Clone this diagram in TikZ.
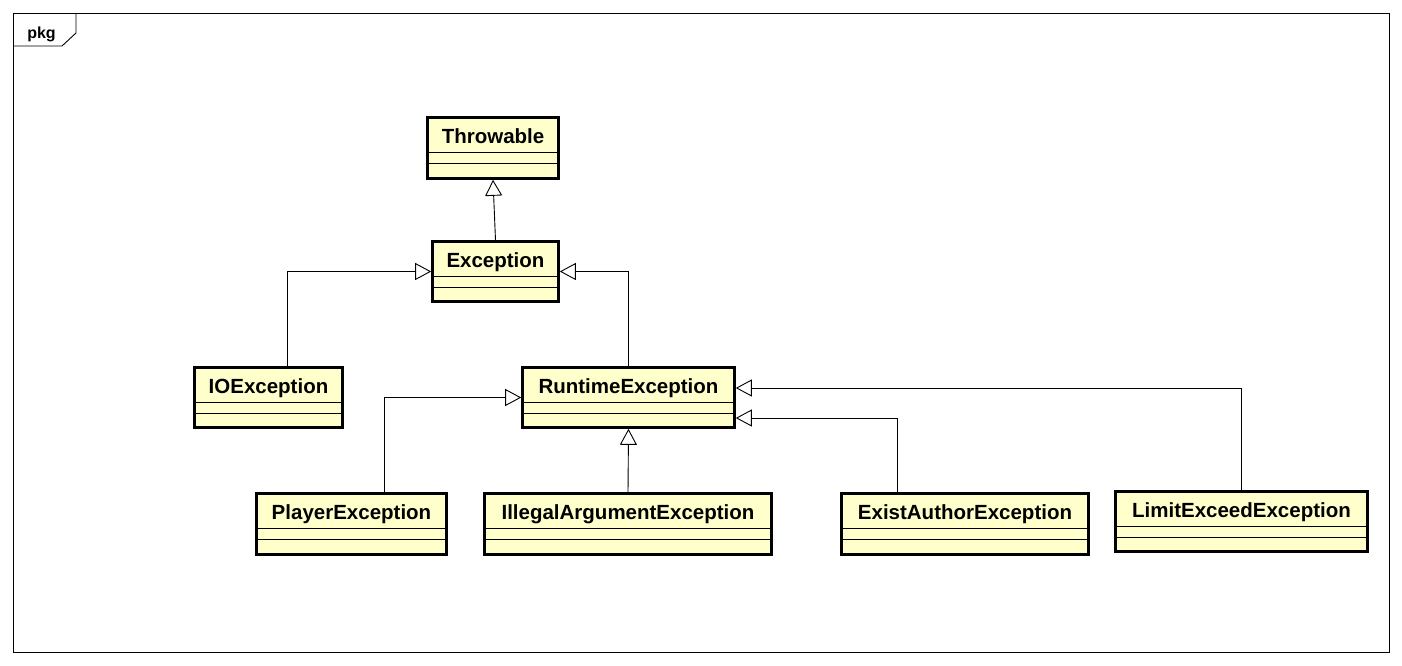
\documentclass[tikz,border=0pt]{standalone}
\usepackage{fontspec}
\setmainfont{Liberation Sans}
\usetikzlibrary{arrows.meta}
\definecolor{clsfill}{RGB}{255,255,204}
\tikzset{
  clsbox/.style={draw=black, line width=2.6pt, fill=clsfill, inner sep=0pt},
  clstext/.style={anchor=base, inner sep=0pt, font=\fontsize{20.5}{24}\selectfont\bfseries},
  compline/.style={line width=0.9pt},
  inh/.style={line width=0.9pt, -{Triangle[length=16pt,width=17pt,fill=white]}},
  frameline/.style={line width=0.9pt}
}
\newcommand\umlclass[6]{%
  \node[clsbox, minimum width=#4pt, minimum height=#5pt] (#1) at (#2,#3) {};
  \node[clstext] (#1-t) at ([yshift=-27.5pt]#1.north) {#6};
  \draw[compline] ([yshift=-36.5pt]#1.north west) -- ([yshift=-36.5pt]#1.north east);
  \draw[compline] ([yshift=-47pt]#1.north west) -- ([yshift=-47pt]#1.north east);
}
\begin{document}
\begin{tikzpicture}[x=1pt,y=-1pt]
\useasboundingbox (0,0) rectangle (1402,665);
% frame
\draw[frameline] (13,13) rectangle (1389,652);
\draw[frameline] (13,46) -- (62,46) -- (76,33) -- (76,13);
\node[anchor=base, inner sep=0pt, font=\fontsize{16}{18}\selectfont\bfseries] (pkg) at (41.5,38) {pkg};
% classes
\umlclass{thr}{493}{148}{131}{61}{Throwable}
\umlclass{exc}{495.5}{271.5}{126}{60}{Exception}
\umlclass{io}{268.5}{397.5}{148}{60}{IOException}
\umlclass{rt}{628.5}{397.5}{212}{60}{RuntimeException}
\umlclass{pl}{351.5}{524}{190}{61}{PlayerException}
\umlclass{ill}{628}{524}{287}{61}{IllegalArgumentException}
\umlclass{ea}{965}{524}{247}{61}{ExistAuthorException}
\umlclass{le}{1241.5}{521.5}{252}{60}{LimitExceedException}
% generalizations
\draw[inh] (exc.north) -- (thr.south);
\draw[inh] ([xshift=18.5pt]io.north) |- (exc.west);
\draw[inh] (rt.north) |- (exc.east);
\draw[inh] ([xshift=32.5pt]pl.north) |- (rt.west);
\draw[inh] (ill.north) -- (rt.south);
\draw[inh] ([xshift=-68pt]ea.north) |- ([yshift=-20.5pt]rt.east);
\draw[inh] (le.north) |- ([yshift=9.5pt]rt.east);
\end{tikzpicture}
\end{document}
